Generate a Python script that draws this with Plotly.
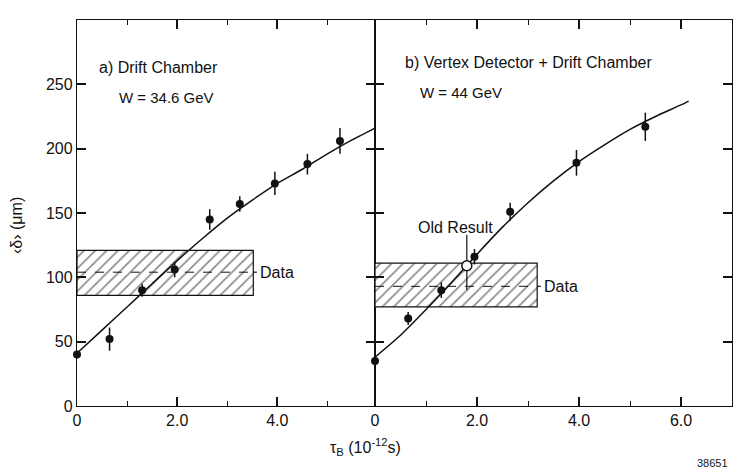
import plotly.graph_objects as go

# ---- data ----
# panel a) Drift Chamber, W = 34.6 GeV
a_x = [0.0, 0.65, 1.3, 1.95, 2.65, 3.25, 3.95, 4.6, 5.25]
a_y = [40, 52, 90, 106, 145, 157, 173, 188, 206]
a_err = [3, 9, 5, 6, 8, 6, 9, 8, 10]
a_curve_x = [0.0, 0.5, 1.0, 1.5, 2.0, 2.5, 3.0, 3.5, 4.0, 4.5, 5.0, 5.5, 5.95]
a_curve_y = [41, 59, 77, 95, 113, 130, 146, 160, 173, 184, 196, 207, 216]
a_box = {"x1": 3.52, "lo": 86, "hi": 121, "mid": 104}

# panel b) Vertex Detector + Drift Chamber, W = 44 GeV
b_x = [0.0, 0.65, 1.3, 1.95, 2.65, 3.95, 5.3]
b_y = [35, 68, 90, 116, 151, 189, 217]
b_err = [5, 5, 6, 6, 7, 10, 11]
b_old_x = [1.8]
b_old_y = [109]
b_old_up = [24]
b_old_dn = [19]
b_curve_x = [0.0, 0.5, 1.0, 1.5, 2.0, 2.5, 3.0, 3.5, 4.0, 4.5, 5.0, 5.5, 6.0, 6.15]
b_curve_y = [38, 55, 75, 96, 118, 139, 158, 175, 190, 203, 215, 225, 234, 237]
b_box = {"x1": 3.18, "lo": 77, "hi": 111, "mid": 93}

x_tickvals = [0, 2, 4, 6]
x_ticktext = ["0", "2.0", "4.0", "6.0"]
y_tickvals = [0, 50, 100, 150, 200, 250]

FONT = "Liberation Sans, Arial, sans-serif"
BLK = "#111111"

# plot-area pixel geometry (for placing free text in paper coords)
ML, MR, MT, MB = 77, 3, 20, 64
W, H = 735, 470
PW, PH = W - ML - MR, H - MT - MB


def px(xpix):
    return (xpix - ML) / PW


def py(ypix):
    return (H - MB - ypix) / PH


fig = go.Figure()


def add_box(box, xa, ya):
    x0, x1, lo, hi = 0.0, box["x1"], box["lo"], box["hi"]
    fig.add_trace(go.Scatter(
        x=[x0, x1, x1, x0, x0], y=[lo, lo, hi, hi, lo],
        xaxis=xa, yaxis=ya, mode="lines", fill="toself",
        fillcolor="white",
        fillpattern=dict(shape="/", fgcolor=BLK, bgcolor="white", size=8, solidity=0.2),
        line=dict(color=BLK, width=1.2), hoverinfo="skip", showlegend=False))
    fig.add_trace(go.Scatter(
        x=[x0, x1], y=[box["mid"], box["mid"]], xaxis=xa, yaxis=ya, mode="lines",
        line=dict(color=BLK, width=1, dash="dash"), hoverinfo="skip", showlegend=False))
    # brace tip
    fig.add_trace(go.Scatter(
        x=[x1, x1 + 0.07], y=[box["mid"], box["mid"]], xaxis=xa, yaxis=ya, mode="lines",
        line=dict(color=BLK, width=1.2), hoverinfo="skip", showlegend=False))


add_box(a_box, "x", "y")
add_box(b_box, "x2", "y2")

# curves
fig.add_trace(go.Scatter(x=a_curve_x, y=a_curve_y, xaxis="x", yaxis="y", mode="lines",
                         line=dict(color=BLK, width=1.5, shape="spline", smoothing=0.6),
                         showlegend=False))
fig.add_trace(go.Scatter(x=b_curve_x, y=b_curve_y, xaxis="x2", yaxis="y2", mode="lines",
                         line=dict(color=BLK, width=1.5, shape="spline", smoothing=0.6),
                         showlegend=False))

# data points
fig.add_trace(go.Scatter(x=a_x, y=a_y, xaxis="x", yaxis="y", mode="markers", cliponaxis=False,
                         marker=dict(color=BLK, size=8),
                         error_y=dict(type="data", array=a_err, color=BLK, thickness=1.5, width=0),
                         showlegend=False))
fig.add_trace(go.Scatter(x=b_x, y=b_y, xaxis="x2", yaxis="y2", mode="markers", cliponaxis=False,
                         marker=dict(color=BLK, size=8),
                         error_y=dict(type="data", array=b_err, color=BLK, thickness=1.5, width=0),
                         showlegend=False))
fig.add_trace(go.Scatter(x=b_old_x, y=b_old_y, xaxis="x2", yaxis="y2", mode="markers",
                         marker=dict(color="white", size=10, line=dict(color=BLK, width=1.5)),
                         error_y=dict(type="data", symmetric=False, array=b_old_up,
                                      arrayminus=b_old_dn, color=BLK, thickness=1.2, width=0),
                         showlegend=False))

xcommon = dict(showline=True, linecolor=BLK, linewidth=1.3, mirror="ticks",
               ticks="inside", ticklen=9, tickwidth=1.5, tickcolor=BLK,
               tickvals=x_tickvals, ticktext=x_ticktext,
               minor=dict(ticks="inside", dtick=1, tick0=0, ticklen=5, tickwidth=1.2, tickcolor=BLK),
               showgrid=False, zeroline=False,
               tickfont=dict(family=FONT, size=16, color=BLK))
ycommon = dict(showline=True, linecolor=BLK, linewidth=1.3, mirror="ticks",
               ticks="inside", ticklen=9, tickwidth=1.5, tickcolor=BLK,
               tickvals=y_tickvals, range=[0, 300],
               showgrid=False, zeroline=False,
               tickfont=dict(family=FONT, size=16, color=BLK))

fig.update_layout(
    width=W, height=H,
    margin=dict(l=ML, r=MR, t=MT, b=MB),
    paper_bgcolor="white", plot_bgcolor="white",
    xaxis=dict(domain=[0, 0.455], range=[0, 5.95], anchor="y", **xcommon),
    xaxis2=dict(domain=[0.455, 1.0], range=[0, 7.0], anchor="y2", **xcommon),
    yaxis=dict(anchor="x", domain=[0, 1], **ycommon),
    yaxis2=dict(anchor="x2", domain=[0, 1], showticklabels=False, **ycommon),
    showlegend=False,
)

ann_font = dict(family=FONT, size=16, color=BLK)
anns = [
    dict(text="a) Drift Chamber", x=0.4, y=263, xref="x", yref="y", xanchor="left"),
    dict(text="W = 34.6 GeV", x=0.8, y=240, xref="x", yref="y", xanchor="left",
         font=dict(family=FONT, size=15, color=BLK)),
    dict(text="b) Vertex Detector + Drift Chamber", x=0.55, y=267, xref="x2", yref="y2", xanchor="left"),
    dict(text="W = 44 GeV", x=0.84, y=244, xref="x2", yref="y2", xanchor="left",
         font=dict(family=FONT, size=15, color=BLK)),
    dict(text="Data", x=a_box["x1"] + 0.1, y=a_box["mid"], xref="x", yref="y", xanchor="left"),
    dict(text="Data", x=b_box["x1"] + 0.1, y=b_box["mid"], xref="x2", yref="y2", xanchor="left"),
    dict(text="Old Result", x=b_old_x[0] - 0.23, y=139, xref="x2", yref="y2", xanchor="center"),
    dict(text="τ<sub>B</sub> (10<sup>-12</sup>s)", x=px(365), y=py(447),
         xref="paper", yref="paper", xanchor="center", yanchor="middle"),
    dict(text="‹δ› (μm)", x=px(16), y=py(226), xref="paper", yref="paper",
         textangle=-90, xanchor="center", yanchor="middle"),
    dict(text="38651", x=px(712), y=py(463), xref="paper", yref="paper",
         xanchor="center", yanchor="middle", font=dict(family=FONT, size=11, color=BLK)),
]
for a in anns:
    a.setdefault("font", ann_font)
    a["showarrow"] = False
    fig.add_annotation(**a)

fig.write_html("out.html")
